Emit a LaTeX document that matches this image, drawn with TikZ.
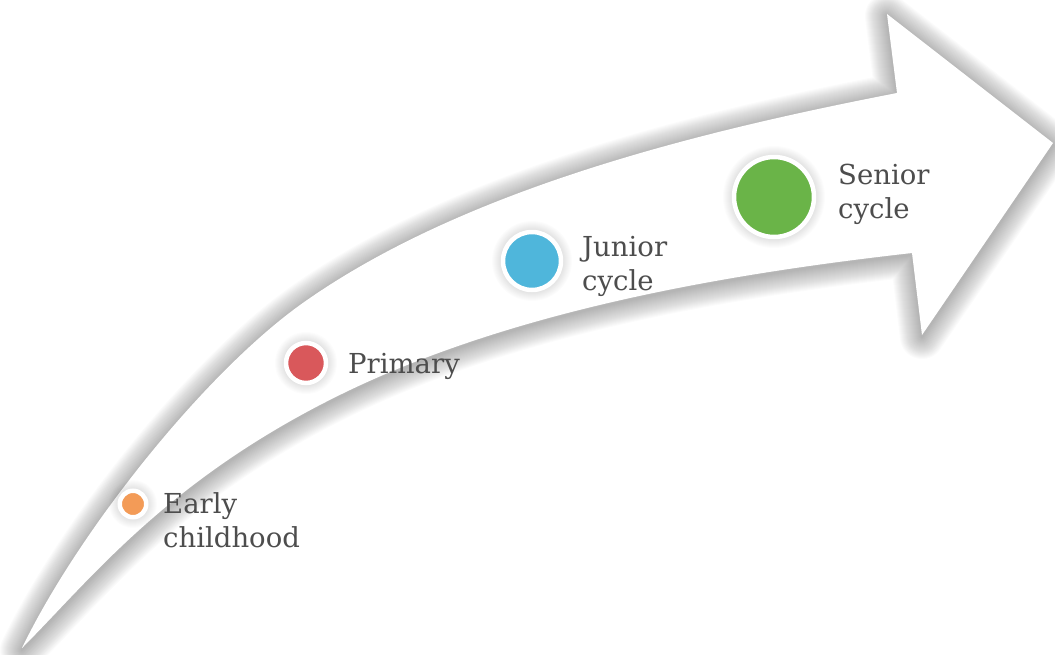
\documentclass[tikz,border=0pt]{standalone}
\usepackage{fontspec}
\setmainfont{DejaVu Serif}
\definecolor{earlyc}{HTML}{F39B57}
\definecolor{primc}{HTML}{D9585B}
\definecolor{juniorc}{HTML}{4FB6DB}
\definecolor{seniorc}{HTML}{6AB448}
\definecolor{txtgray}{HTML}{4D4D4D}
\tikzset{
  glow/.style={black, opacity=0.017, line join=round},
  dot/.style={circle, draw=white, line width=4.5pt, inner sep=0pt},
  stage/.style={font=\fontsize{27.5}{33.5}\selectfont, text=txtgray,
      align=left, inner sep=0pt, anchor=base west}
}
\def\arrowpath{(22,648) .. controls (78,532) and (203,375) .. (300,305)
  .. controls (462,189) and (701,131) .. (897,93) -- (887,14) -- (1053,143)
  -- (922,335) -- (912,253) .. controls (725,274) and (518,310) .. (350,390)
  .. controls (170,476) and (92,578) .. (22,648) -- cycle}
\begin{document}
\begin{tikzpicture}[x=1pt,y=-1pt]
\useasboundingbox (0,0) rectangle (1055,654);
% soft shadow, then the arrow
\begin{scope}[yshift=-2pt]
\foreach \w in {2,4,...,44}
  \draw[glow, line width=\w pt] \arrowpath;
\end{scope}
\fill[white] \arrowpath;
% stages
\coordinate (earlyp) at (133,504);
\coordinate (primp) at (306,363);
\coordinate (juniorp) at (532,261);
\coordinate (seniorp) at (774,197);
\foreach \c/\r in {earlyp/15,primp/22,juniorp/31,seniorp/42}
  \foreach \k in {1,...,9}
    \fill[black, opacity=0.012] (\c) circle (\r+\k);
\node[dot, fill=earlyc, minimum size=26.5pt] (early) at (earlyp) {};
\node[dot, fill=primc, minimum size=40pt] (prim) at (primp) {};
\node[dot, fill=juniorc, minimum size=58pt] (junior) at (juniorp) {};
\node[dot, fill=seniorc, minimum size=80pt] (senior) at (seniorp) {};
\node[stage] (earlyt) at (163,547) {Early\\childhood};
\node[stage] (primt) at (348,373) {Primary};
\node[stage] (juniort) at (582,290) {Junior\\cycle};
\node[stage] (seniort) at (838,218) {Senior\\cycle};
\end{tikzpicture}
\end{document}
